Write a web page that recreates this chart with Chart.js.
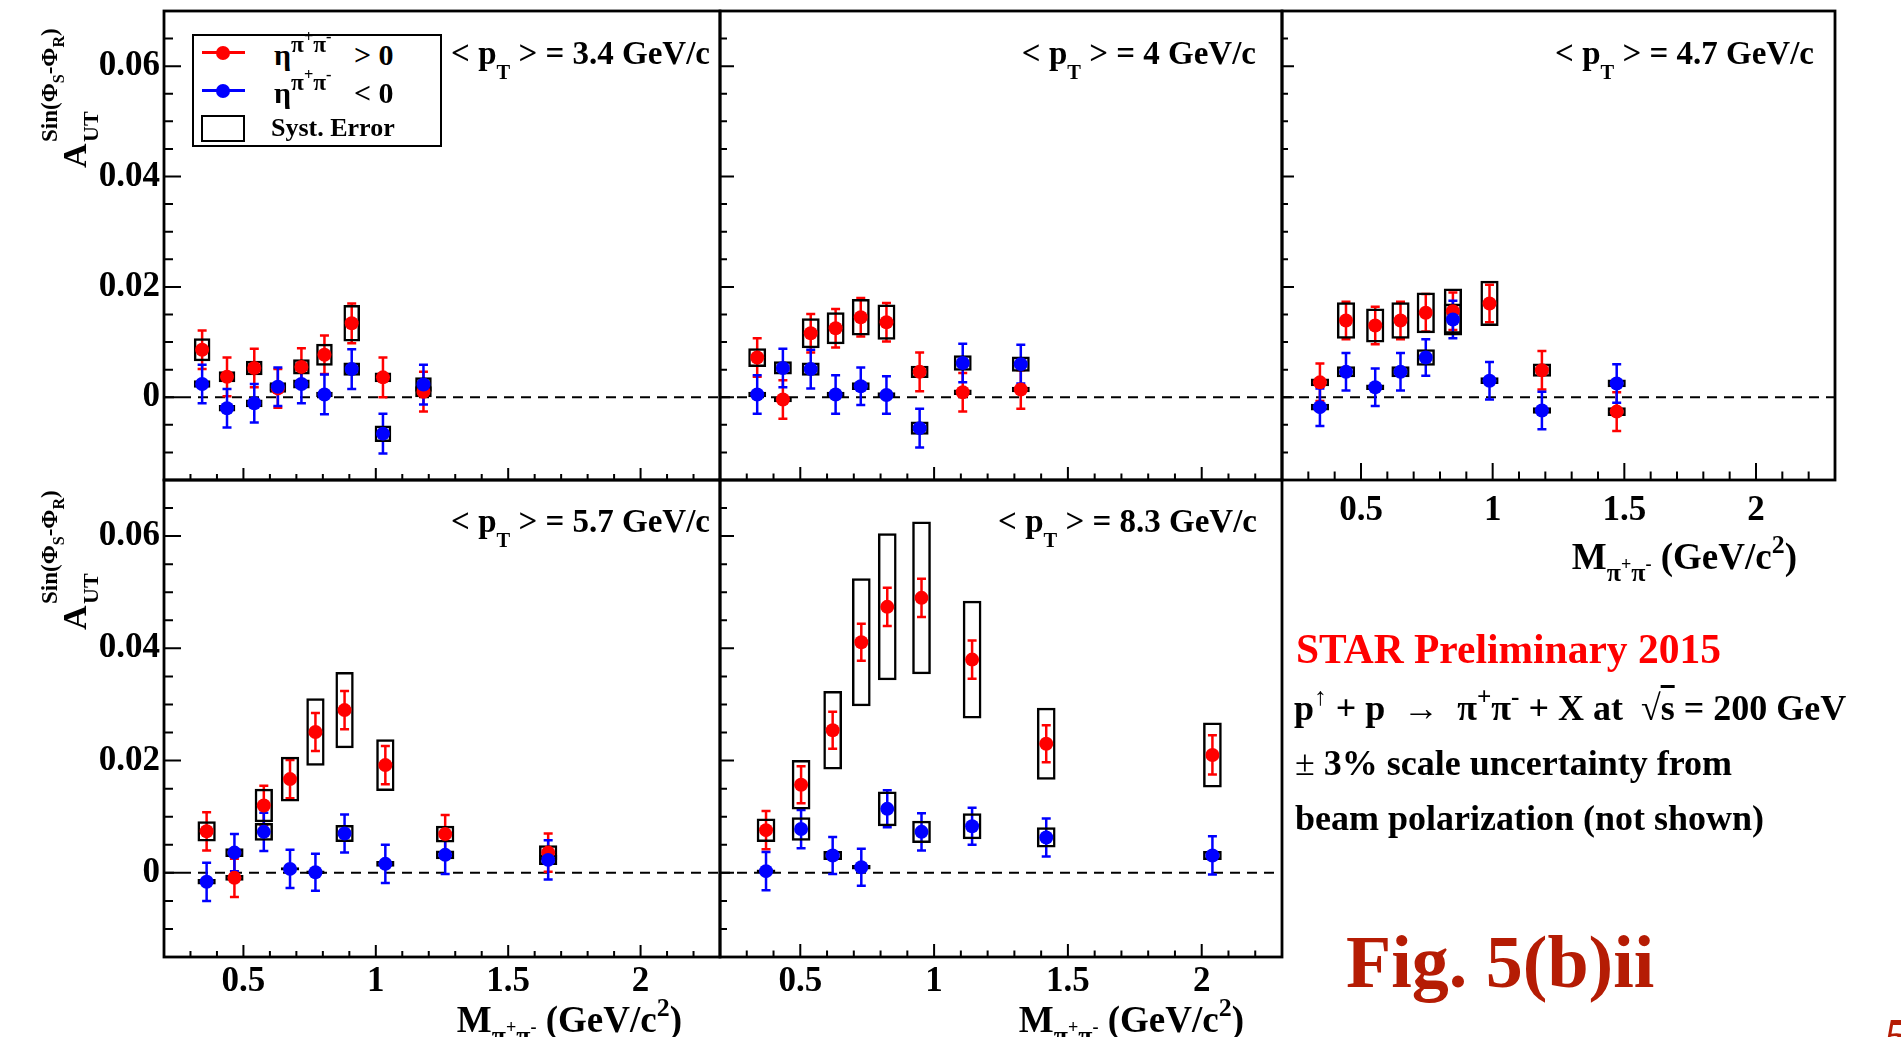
<!DOCTYPE html>
<html>
<head>
<meta charset="utf-8">
<title>STAR A_UT sin(phi_S - phi_R) vs M</title>
<script src="https://cdn.jsdelivr.net/npm/chart.js"></script>
<style>
  html, body { margin: 0; padding: 0; background: #fff; }
  #page { position: relative; width: 1901px; height: 1037px; overflow: hidden; background: #fff; }
  #page canvas { position: absolute; left: 0; top: 0; z-index: 0; }
  .t { position: absolute; z-index: 2; font-family: "Liberation Serif", "Times New Roman", serif; font-weight: bold; line-height: 1; white-space: pre; color: #000; }
  .sub, .sup, .tsub { position: relative; line-height: 0; font-size: 0.7em; }
  .sub { top: 0.45em; }
  .sup { top: -0.6em; }
  .tsub { font-size: 0.62em; top: 0.75em; }
  .lsup { position: relative; line-height: 0; font-size: 0.78em; top: -0.55em; }
  .ytitle { position: absolute; z-index: 2; width: 220px; height: 100px; transform: rotate(-90deg); transform-origin: 0 0; }
  #legend { position: absolute; z-index: 2; left: 192px; top: 34px; width: 250px; height: 113px; box-sizing: border-box; border: 2px solid #000; background: #fff; }
  .lline { position: absolute; left: 8px; width: 43px; height: 3px; }
  .ldot { position: absolute; left: 22px; width: 14px; height: 14px; border-radius: 50%; }
  .lbox { position: absolute; left: 7px; top: 79px; width: 44px; height: 27px; box-sizing: border-box; border: 2.5px solid #000; }
  .ov { text-decoration: overline; }
</style>
</head>
<body>
<div id="page">
  <div id="legend">
    <div class="lline" style="top:15px;background:#f00"></div>
    <div class="ldot" style="top:10px;background:#f00"></div>
    <div class="t" style="font-size:30px;left:80px;top:4px">η<span class="lsup">π<span class="sup">+</span>π<span class="sup">-</span></span>   &gt; 0</div>
    <div class="lline" style="top:53px;background:#00f"></div>
    <div class="ldot" style="top:48px;background:#00f"></div>
    <div class="t" style="font-size:30px;left:80px;top:42px">η<span class="lsup">π<span class="sup">+</span>π<span class="sup">-</span></span>   &lt; 0</div>
    <div class="lbox"></div>
    <div class="t" style="font-size:26px;left:77px;top:79px">Syst. Error</div>
  </div>

  <div class="t" style="font-size:41.5px;color:#f00;left:1296px;top:629px">STAR Preliminary 2015</div>
  <div class="t" style="font-size:36px;left:1294px;top:690px">p<span class="sup" style="font-weight:normal">↑</span> + p  <span style="font-weight:normal">→</span>  π<span class="sup">+</span>π<span class="sup">-</span> + X at  √<span class="ov">s</span> = 200 GeV</div>
  <div class="t" style="font-size:36px;left:1295px;top:745px"><span style="font-weight:normal">±</span> 3% scale uncertainty from</div>
  <div class="t" style="font-size:36px;left:1295px;top:800px">beam polarization (not shown)</div>
  <div class="t" style="font-size:74px;color:#b51c04;left:1346px;top:925px">Fig. 5(b)ii</div>
  <div class="t" style="font-size:50px;color:#b51c04;font-style:italic;left:1884px;top:1011px">5</div>
</div>

<script>
// ---- axis ticks ----
const xTickValues = [0.5, 1, 1.5, 2];
const xTickLabels = ['0.5', '1', '1.5', '2'];
const yTickValues = [0, 0.02, 0.04, 0.06];
const yTickLabels = ['0', '0.02', '0.04', '0.06'];
const meanPt = ['3.4', '4', '4.7', '5.7', '8.3'];

// ---- <pT> = 3.4 GeV/c ----
const mass34 = [0.344, 0.438, 0.541, 0.630, 0.719, 0.806, 0.909, 1.027, 1.180];
const etaPos34 = [0.0086, 0.0037, 0.0053, 0.0016, 0.0055, 0.0077, 0.0134, 0.0036, 0.0010];
const etaPos34Stat = [0.0035, 0.0035, 0.0035, 0.0035, 0.0034, 0.0035, 0.0036, 0.0036, 0.0036];
const etaPos34Sys = [0.0021, 0.0010, 0.0013, 0.0008, 0.0014, 0.0020, 0.0033, 0.0009, 0.0010];
const etaNeg34 = [0.0024, -0.0020, -0.0011, 0.0019, 0.0024, 0.0005, 0.0051, -0.0066, 0.0023];
const etaNeg34Stat = [0.0035, 0.0035, 0.0035, 0.0035, 0.0035, 0.0036, 0.0036, 0.0036, 0.0036];
const etaNeg34Sys = [0.0007, 0.0006, 0.0007, 0.0008, 0.0008, 0.0005, 0.0012, 0.0015, 0.0013];

// ---- <pT> = 4 GeV/c ----
const mass40 = [0.339, 0.435, 0.539, 0.632, 0.726, 0.822, 0.946, 1.107, 1.324];
const etaPos40 = [0.0072, -0.0004, 0.0116, 0.0125, 0.0145, 0.0136, 0.0046, 0.0009, 0.0014];
const etaPos40Stat = [0.0035, 0.0035, 0.0035, 0.0035, 0.0035, 0.0035, 0.0035, 0.0035, 0.0035];
const etaPos40Sys = [0.0017, 0.0005, 0.0027, 0.0029, 0.0033, 0.0032, 0.0011, 0.0005, 0.0005];
const etaNeg40 = [0.0005, 0.0053, 0.0051, 0.0005, 0.0020, 0.0004, -0.0056, 0.0062, 0.0060];
const etaNeg40Stat = [0.0035, 0.0035, 0.0035, 0.0035, 0.0034, 0.0034, 0.0035, 0.0035, 0.0035];
const etaNeg40Sys = [0.0005, 0.0012, 0.0012, 0.0005, 0.0007, 0.0005, 0.0012, 0.0014, 0.0014];

// ---- <pT> = 4.7 GeV/c ----
const mass47 = [0.344, 0.443, 0.554, 0.650, 0.746, 0.849, 0.988, 1.187, 1.471];
const etaPos47 = [0.0027, 0.0139, 0.0130, 0.0139, 0.0153, 0.0156, 0.0170, 0.0049, -0.0026];
const etaPos47Stat = [0.0034, 0.0034, 0.0034, 0.0034, 0.0034, 0.0034, 0.0034, 0.0035, 0.0035];
const etaPos47Sys = [0.0007, 0.0033, 0.0031, 0.0033, 0.0037, 0.0041, 0.0041, 0.0012, 0.0008];
const etaNeg47 = [-0.0018, 0.0046, 0.0018, 0.0046, 0.0072, 0.0141, 0.0030, -0.0024, 0.0025];
const etaNeg47Stat = [0.0034, 0.0034, 0.0034, 0.0034, 0.0033, 0.0034, 0.0034, 0.0034, 0.0035];
const etaNeg47Sys = [0.0006, 0.0010, 0.0005, 0.0010, 0.0015, 0.0029, 0.0006, 0.0006, 0.0007];

// ---- <pT> = 5.7 GeV/c ----
const mass57 = [0.361, 0.466, 0.577, 0.676, 0.772, 0.882, 1.036, 1.262, 1.651];
const etaPos57 = [0.0074, -0.0009, 0.0120, 0.0167, 0.0251, 0.0290, 0.0192, 0.0069, 0.0036];
const etaPos57Stat = [0.0034, 0.0034, 0.0035, 0.0034, 0.0034, 0.0034, 0.0034, 0.0034, 0.0034];
const etaPos57Sys = [0.0018, 0.0005, 0.0030, 0.0040, 0.0060, 0.0068, 0.0046, 0.0015, 0.0013];
const etaNeg57 = [-0.0016, 0.0036, 0.0073, 0.0007, 0.0001, 0.0070, 0.0016, 0.0032, 0.0023];
const etaNeg57Stat = [0.0034, 0.0033, 0.0034, 0.0034, 0.0033, 0.0034, 0.0034, 0.0034, 0.0035];
const etaNeg57Sys = [0.0005, 0.0008, 0.0016, 0.0003, 0.0003, 0.0015, 0.0005, 0.0008, 0.0009];

// ---- <pT> = 8.3 GeV/c ----
const mass83 = [0.372, 0.503, 0.621, 0.728, 0.825, 0.953, 1.142, 1.419, 2.040];
const etaPos83 = [0.0076, 0.0157, 0.0254, 0.0411, 0.0474, 0.0490, 0.0380, 0.0230, 0.0210];
const etaPos83Stat = [0.0034, 0.0033, 0.0033, 0.0033, 0.0034, 0.0034, 0.0034, 0.0033, 0.0035];
const etaPos83Sys = [0.0021, 0.0044, 0.0070, 0.0114, 0.0131, 0.0136, 0.0105, 0.0064, 0.0058];
const etaNeg83 = [0.0003, 0.0078, 0.0031, 0.0010, 0.0114, 0.0073, 0.0083, 0.0063, 0.0031];
const etaNeg83Stat = [0.0034, 0.0034, 0.0033, 0.0033, 0.0033, 0.0033, 0.0033, 0.0034, 0.0034];
const etaNeg83Sys = [0.0003, 0.0021, 0.0008, 0.0004, 0.0031, 0.0020, 0.0023, 0.0018, 0.0008];

const W = 1901, H = 1037;
const AXIS_W = 140, AXIS_H = 70;
const RED = '#ff0000', BLUE = '#0000ff';
const tickFont = { family: 'Liberation Serif', size: 35, weight: 'bold' };

const panels = [
  { pt: meanPt[0], mass: mass34, pos: etaPos34, posStat: etaPos34Stat, posSys: etaPos34Sys,
    neg: etaNeg34, negStat: etaNeg34Stat, negSys: etaNeg34Sys,
    f: { l: 164, r: 720, t: 11, b: 480 }, yLab: true, xLab: false, tickY: [17, 9], tickX: [12, 6], xPad: 4,
    ptRight: 710, ptTop: 37, yTitle: 172 },
  { pt: meanPt[1], mass: mass40, pos: etaPos40, posStat: etaPos40Stat, posSys: etaPos40Sys,
    neg: etaNeg40, negStat: etaNeg40Stat, negSys: etaNeg40Sys,
    f: { l: 720, r: 1282, t: 11, b: 480 }, yLab: false, xLab: false, tickY: [14, 7], tickX: [13, 6.5], xPad: 4,
    ptRight: 1256, ptTop: 37 },
  { pt: meanPt[2], mass: mass47, pos: etaPos47, posStat: etaPos47Stat, posSys: etaPos47Sys,
    neg: etaNeg47, negStat: etaNeg47Stat, negSys: etaNeg47Sys,
    f: { l: 1282, r: 1835, t: 11, b: 480 }, yLab: false, xLab: true, tickY: [12, 6], tickX: [17, 8.5], xPad: 10,
    ptRight: 1814, ptTop: 37, xTitleTop: 538 },
  { pt: meanPt[3], mass: mass57, pos: etaPos57, posStat: etaPos57Stat, posSys: etaPos57Sys,
    neg: etaNeg57, negStat: etaNeg57Stat, negSys: etaNeg57Sys,
    f: { l: 164, r: 720, t: 480, b: 957 }, yLab: true, xLab: true, tickY: [17, 9], tickX: [12, 6], xPad: 4,
    ptRight: 710, ptTop: 505, yTitle: 634, xTitleTop: 1001 },
  { pt: meanPt[4], mass: mass83, pos: etaPos83, posStat: etaPos83Stat, posSys: etaPos83Sys,
    neg: etaNeg83, negStat: etaNeg83Stat, negSys: etaNeg83Sys,
    f: { l: 720, r: 1282, t: 480, b: 957 }, yLab: false, xLab: true, tickY: [14, 7], tickX: [13, 6.5], xPad: 4,
    ptRight: 1257, ptTop: 505, xTitleTop: 1001 }
];

// ROOT-like decorations: dashed zero line, stat error bars, frame and inward ticks
const rootStyle = {
  id: 'rootStyle',
  beforeDatasetsDraw(chart) {
    const p = chart.canvas.panelData;
    const { ctx, chartArea: a, scales: { x, y } } = chart;
    ctx.save();
    ctx.strokeStyle = '#000';
    ctx.lineWidth = 2;
    ctx.setLineDash([10, 7]);
    const y0 = y.getPixelForValue(0);
    ctx.beginPath();
    ctx.moveTo(a.left, y0);
    ctx.lineTo(a.right, y0);
    ctx.stroke();
    ctx.setLineDash([]);
    [[p.pos, p.posStat, RED], [p.neg, p.negStat, BLUE]].forEach(([vals, errs, col]) => {
      ctx.strokeStyle = col;
      ctx.lineWidth = 2.5;
      ctx.beginPath();
      p.mass.forEach((m, i) => {
        const px = x.getPixelForValue(m);
        const lo = y.getPixelForValue(vals[i] - errs[i]);
        const hi = y.getPixelForValue(vals[i] + errs[i]);
        ctx.moveTo(px, lo); ctx.lineTo(px, hi);
        ctx.moveTo(px - 4.5, lo); ctx.lineTo(px + 4.5, lo);
        ctx.moveTo(px - 4.5, hi); ctx.lineTo(px + 4.5, hi);
      });
      ctx.stroke();
    });
    ctx.restore();
  },
  afterDraw(chart) {
    const p = chart.canvas.panelData;
    const { ctx, chartArea: a, scales: { x, y } } = chart;
    ctx.save();
    ctx.strokeStyle = '#000';
    ctx.lineWidth = 2;
    ctx.beginPath();
    for (let k = -2; k <= 13; k++) {
      const py = y.getPixelForValue(k * 0.005);
      const len = k % 4 === 0 ? p.tickY[0] : p.tickY[1];
      ctx.moveTo(a.left, py);
      ctx.lineTo(a.left + len, py);
    }
    for (let k = 3; k <= 22; k++) {
      const px = x.getPixelForValue(k / 10);
      const len = k % 5 === 0 ? p.tickX[0] : p.tickX[1];
      ctx.moveTo(px, a.bottom);
      ctx.lineTo(px, a.bottom - len);
    }
    ctx.stroke();
    ctx.lineWidth = 2.8;
    ctx.strokeRect(a.left, a.top, a.right - a.left, a.bottom - a.top);
    ctx.restore();
  }
};

const page = document.getElementById('page');

function addText(html, style) {
  const d = document.createElement('div');
  d.className = 't';
  d.innerHTML = html;
  Object.assign(d.style, style);
  page.appendChild(d);
  return d;
}

function addYTitle(top) {
  const d = document.createElement('div');
  d.className = 'ytitle';
  d.style.left = '30px';
  d.style.top = top + 'px';
  d.innerHTML =
    '<span class="t" style="font-size:34px;left:4px;top:28px">A</span>' +
    '<span class="t" style="font-size:22px;left:30px;top:50px">UT</span>' +
    '<span class="t" style="font-size:23px;left:30px;top:8px">Sin(Φ<span class="sub">S</span>-Φ<span class="sub">R</span>)</span>';
  page.appendChild(d);
}

const boxes = (m, v, s) => m.map((x, i) => ({ x: x, y: [v[i] - s[i], v[i] + s[i]] }));
const points = (m, v) => m.map((x, i) => ({ x: x, y: v[i] }));
const zeroPad = s => { s.paddingLeft = 0; s.paddingRight = 0; s.paddingTop = 0; s.paddingBottom = 0; };

panels.forEach(p => {
  const canvas = document.createElement('canvas');
  canvas.width = W;
  canvas.height = H;
  canvas.panelData = p;
  page.appendChild(canvas);

  const sysBox = {
    type: 'bar', borderColor: '#000', borderWidth: 2.5, backgroundColor: 'rgba(0,0,0,0)',
    borderSkipped: false, grouped: false, maxBarThickness: 19
  };

  new Chart(canvas, {
    type: 'scatter',
    data: {
      datasets: [
        Object.assign({ label: 'syst +', data: boxes(p.mass, p.pos, p.posSys), order: 4 }, sysBox),
        Object.assign({ label: 'syst -', data: boxes(p.mass, p.neg, p.negSys), order: 3 }, sysBox),
        { label: 'eta > 0', data: points(p.mass, p.pos), backgroundColor: RED, borderColor: RED,
          pointRadius: 7, pointBorderWidth: 0, order: 2 },
        { label: 'eta < 0', data: points(p.mass, p.neg), backgroundColor: BLUE, borderColor: BLUE,
          pointRadius: 7, pointBorderWidth: 0, order: 1 }
      ]
    },
    options: {
      responsive: false,
      animation: false,
      devicePixelRatio: 1,
      events: [],
      layout: {
        autoPadding: false,
        padding: { left: p.f.l - AXIS_W, top: p.f.t, right: W - p.f.r, bottom: H - p.f.b - AXIS_H }
      },
      plugins: { legend: { display: false }, tooltip: { enabled: false } },
      scales: {
        x: {
          type: 'linear', min: 0.2, max: 2.3, offset: false,
          grid: { display: false, drawTicks: false, tickLength: 0 },
          border: { display: false },
          ticks: {
            display: p.xLab, font: tickFont, color: '#000', padding: p.xPad,
            maxRotation: 0, autoSkip: false,
            callback: v => xTickLabels[xTickValues.indexOf(v)]
          },
          afterBuildTicks: s => { s.ticks = xTickValues.map(v => ({ value: v })); },
          afterFit: s => { s.height = AXIS_H; zeroPad(s); }
        },
        y: {
          type: 'linear', min: -0.015, max: 0.07,
          grid: { display: false, drawTicks: false, tickLength: 0 },
          border: { display: false },
          ticks: {
            display: p.yLab, font: tickFont, color: '#000', padding: 4,
            autoSkip: false,
            callback: v => yTickLabels[yTickValues.indexOf(v)]
          },
          afterBuildTicks: s => { s.ticks = yTickValues.map(v => ({ value: v })); },
          afterFit: s => { s.width = AXIS_W; zeroPad(s); }
        }
      }
    },
    plugins: [rootStyle]
  });

  addText('&lt; p<span class="tsub">T</span> &gt; = ' + p.pt + ' GeV/c',
    { fontSize: '33px', right: (W - p.ptRight) + 'px', top: p.ptTop + 'px' });

  if (p.xTitleTop) {
    addText('M<span class="sub">π<span class="sup">+</span>π<span class="sup">-</span></span> (GeV/c<span class="sup">2</span>)',
      { fontSize: '37px', right: (W - (p.f.r - 38)) + 'px', top: p.xTitleTop + 'px' });
  }
  if (p.yTitle) addYTitle(p.yTitle);
});
</script>
</body>
</html>
